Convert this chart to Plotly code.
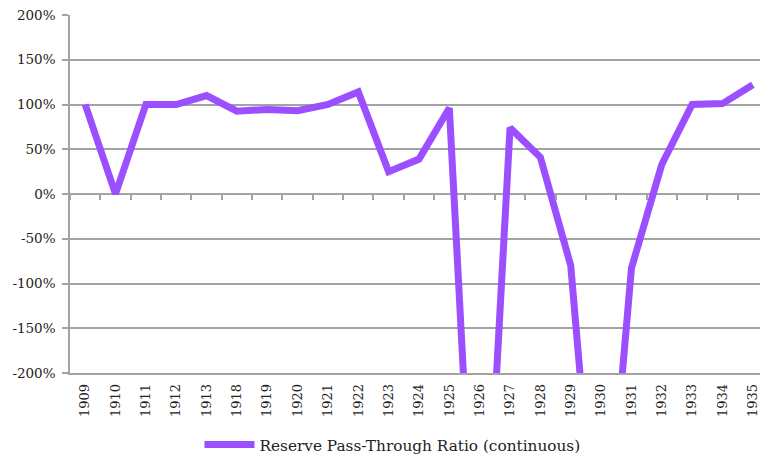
import plotly.graph_objects as go

years = ["1909", "1910", "1911", "1912", "1913", "1918", "1919", "1920", "1921", "1922",
         "1923", "1924", "1925", "1926", "1927", "1928", "1929", "1930", "1931", "1932",
         "1933", "1934", "1935"]
ratio = [100, 0, 100, 100, 110, 92.5, 94.5, 93, 100, 114,
         25, 39, 96, -545, 74, 41, -80, -475, -83, 33,
         100, 101, 122]
y_tick_values = [-200, -150, -100, -50, 0, 50, 100, 150, 200]
y_tick_labels = ["-200%", "-150%", "-100%", "-50%", "0%", "50%", "100%", "150%", "200%"]
series_name = "Reserve Pass-Through Ratio (continuous)"

PURPLE = "#9B4FFF"
GRID = "#A3A3A3"
FONT = "DejaVu Serif"

fig = go.Figure()
fig.add_trace(go.Scatter(x=years, y=ratio, mode="lines", name=series_name,
                         line=dict(color=PURPLE, width=7)))
# invisible trace to carry the axis drawn at the 0% line
fig.add_trace(go.Scatter(x=years, y=ratio, mode="lines", xaxis="x2", showlegend=False,
                         line=dict(width=0, color="rgba(0,0,0,0)"), hoverinfo="skip"))

fig.update_layout(
    width=760, height=449,
    margin=dict(l=62, r=0, t=7, b=84, autoexpand=False),
    plot_bgcolor="white", paper_bgcolor="white",
    font=dict(family=FONT, color="#222"),
    showlegend=True,
    legend=dict(orientation="h", x=0.462, xanchor="center", y=-0.2, yanchor="middle",
                font=dict(family=FONT, size=15.3, color="#222"), itemwidth=50),
    xaxis=dict(type="category", categoryorder="array", categoryarray=years,
               tickangle=-90, tickfont=dict(family=FONT, size=13, color="#222"),
               showgrid=False, showline=True, linecolor=GRID, linewidth=1.5,
               ticks="", ticklabelstandoff=4, range=[-0.5, len(years) - 0.5],
               automargin=False, ticklabeloverflow="allow"),
    xaxis2=dict(type="category", categoryorder="array", categoryarray=years,
                overlaying="x", anchor="free", position=0.5, side="bottom",
                showticklabels=False, showgrid=False, showline=False,
                ticks="outside", ticklen=5, tickcolor=GRID, tickwidth=1.5,
                tickson="boundaries", range=[-0.5, len(years) - 0.5],
                automargin=False),
    yaxis=dict(range=[-200, 200], tickmode="array", tickvals=y_tick_values,
               ticktext=y_tick_labels,
               tickfont=dict(family=FONT, size=13.5, color="#222"),
               showgrid=True, gridcolor=GRID, gridwidth=1.5,
               zeroline=True, zerolinecolor=GRID, zerolinewidth=1.5,
               showline=True, linecolor=GRID, linewidth=1.5,
               ticks="outside", ticklen=6, tickcolor=GRID, tickwidth=1.5,
               ticklabelstandoff=4, automargin=False, ticklabeloverflow="allow"),
)

fig.write_html("out.html")
